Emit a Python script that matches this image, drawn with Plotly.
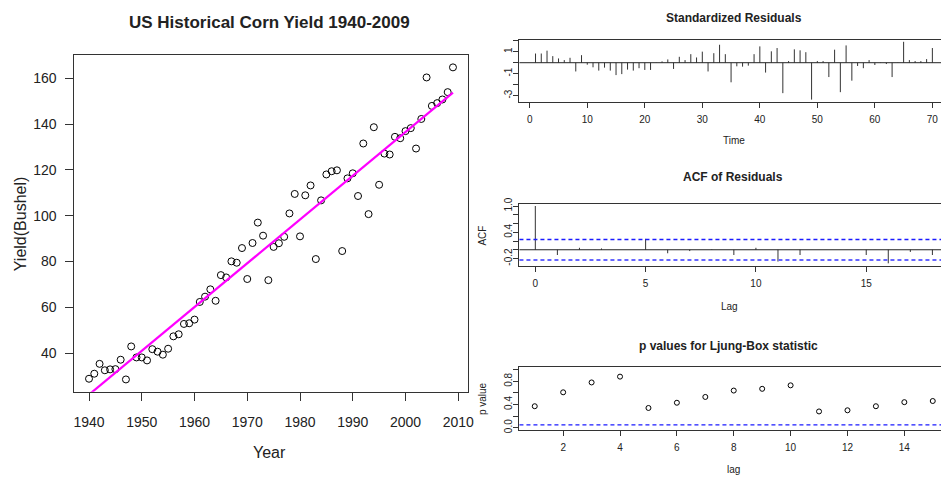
import numpy as np
import plotly.graph_objects as go

# ---------------- data ----------------
years = list(range(1940, 2010))
yield_bu = [28.9, 31.1, 35.4, 32.6, 33.0, 33.1, 37.2, 28.6, 43.0, 38.2,
            38.2, 36.9, 41.8, 40.7, 39.4, 42.0, 47.4, 48.3, 52.8, 53.1,
            54.7, 62.4, 64.7, 67.9, 62.9, 74.1, 73.1, 80.1, 79.5, 85.9,
            72.4, 88.1, 97.0, 91.3, 71.9, 86.4, 88.0, 90.8, 101.0, 109.5,
            91.0, 108.9, 113.2, 81.1, 106.7, 118.0, 119.4, 119.8, 84.6, 116.3,
            118.5, 108.6, 131.5, 100.7, 138.6, 113.5, 127.1, 126.7, 134.4, 133.8,
            136.9, 138.2, 129.3, 142.2, 160.3, 147.9, 149.1, 150.7, 153.9, 164.7]

time_idx = list(range(1, 71))
std_resid = [0.84, 0.84, 1.10, 0.60, 0.39, 0.24, 0.45, -0.80, 0.69, -0.18,
             -0.42, -0.72, -0.45, -0.72, -1.13, -1.04, -0.63, -0.72, -0.50, -0.66,
             -0.66, -0.02, 0.12, 0.30, -0.57, 0.54, 0.24, 0.78, 0.48, 1.01,
             -0.80, 0.87, 1.64, 0.78, -1.79, -0.33, -0.36, -0.27, 0.78, 1.49,
             -0.90, 1.04, 1.34, -2.78, 0.15, 1.22, 1.13, 0.96, -3.37, 0.15,
             0.15, -1.31, 1.19, -2.69, 1.58, -1.64, -0.30, -0.50, 0.24, -0.21,
             -0.03, -0.12, -1.31, 0.02, 1.91, 0.24, 0.15, 0.15, 0.33, 1.34]

acf_lags = list(range(0, 19))
acf_vals = [1.0, -0.12, 0.045, 0.03, 0.0, 0.25, -0.08, -0.03, 0.01, -0.12,
            0.045, -0.27, -0.12, 0.0, 0.0, -0.12, -0.31, -0.05, -0.12]

lb_lags = list(range(1, 16))
lb_pvals = [0.37, 0.61, 0.78, 0.88, 0.34, 0.43, 0.53, 0.64, 0.67, 0.73,
            0.28, 0.30, 0.37, 0.44, 0.46]

n_obs = 70
ci = 1.96 / np.sqrt(n_obs)
lb_level = 0.05

left_xticks = [1940, 1950, 1960, 1970, 1980, 1990, 2000, 2010]
left_yticks = [40, 60, 80, 100, 120, 140, 160]
res_xticks = [0, 10, 20, 30, 40, 50, 60, 70]
res_yticks = [-3, -2, -1, 0, 1, 2]
res_ytext = ["-3", "", "-1", "", "1", ""]
acf_xticks = [0, 5, 10, 15]
acf_yticks = [-0.2, 0.0, 0.2, 0.4, 0.6, 0.8, 1.0]
acf_ytext = ["-0.2", "", "", "0.4", "", "", "1.0"]
lb_xticks = [2, 4, 6, 8, 10, 12, 14]
lb_yticks = [0.0, 0.2, 0.4, 0.6, 0.8, 1.0]
lb_ytext = ["0.0", "", "0.4", "", "0.8", ""]

# ---------------- figure ----------------
W, H = 947, 481
FONT = "Liberation Sans, Arial, sans-serif"
INK = "#222222"

def px_x(p):
    return p / W

def px_y(p):
    return 1 - p / H

fig = go.Figure()

# left: scatter + fitted line
fig.add_trace(go.Scatter(
    x=years, y=yield_bu, mode="markers",
    marker=dict(symbol="circle-open", size=7, color="black", line=dict(width=1)),
    xaxis="x", yaxis="y", showlegend=False, hoverinfo="skip"))
coef = np.polyfit(years, yield_bu, 1)
fit_x = [years[0], years[-1]]
fig.add_trace(go.Scatter(
    x=fit_x, y=list(np.polyval(coef, fit_x)), mode="lines",
    line=dict(color="#FF00FF", width=2.2),
    xaxis="x", yaxis="y", showlegend=False, hoverinfo="skip"))

# standardized residuals (vertical bars)
rx, ry = [], []
for t, r in zip(time_idx, std_resid):
    rx += [t, t, None]
    ry += [0, r, None]
fig.add_trace(go.Scatter(x=rx, y=ry, mode="lines", line=dict(color="#333333", width=1),
                         xaxis="x2", yaxis="y2", showlegend=False, hoverinfo="skip"))

# ACF bars
ax, ay = [], []
for l, v in zip(acf_lags, acf_vals):
    ax += [l, l, None]
    ay += [0, v, None]
fig.add_trace(go.Scatter(x=ax, y=ay, mode="lines", line=dict(color="#333333", width=1),
                         xaxis="x3", yaxis="y3", showlegend=False, hoverinfo="skip"))

# Ljung-Box p-values
fig.add_trace(go.Scatter(
    x=lb_lags, y=lb_pvals, mode="markers",
    marker=dict(symbol="circle-open", size=5, color="black", line=dict(width=1)),
    xaxis="x4", yaxis="y4", showlegend=False, hoverinfo="skip"))

def axis_common(size, ticklen, standoff):
    return dict(showline=True, linecolor="#333333", linewidth=1,
                ticks="outside", ticklen=ticklen, tickcolor="#333333", tickwidth=1,
                showgrid=False, zeroline=False,
                tickfont=dict(family=FONT, size=size, color=INK),
                ticklabelstandoff=standoff)

# left panel axes
fig.update_layout(
    xaxis=dict(domain=[px_x(74), px_x(470)], range=[1937.24, 2011.76],
               tickvals=left_xticks, anchor="y", mirror=True,
               **axis_common(14, 8, 9)),
    yaxis=dict(domain=[px_y(393), px_y(49)], range=[23.2, 170.1],
               tickvals=left_yticks, anchor="x", mirror=True,
               **axis_common(14, 8, 6)),
)

RL = 522.3
# residual panel
fig.update_layout(
    xaxis2=dict(domain=[px_x(RL), 1.0], range=[-1.795, 71.5],
                tickvals=res_xticks, anchor="y2", mirror=True,
                **axis_common(10, 5, 3)),
    yaxis2=dict(domain=[px_y(96.7), px_y(33.3)], range=[-3.56, 2.11],
                tickvals=res_yticks, ticktext=res_ytext, tickangle=-90, anchor="x2",
                **axis_common(10, 5, -3)),
    xaxis3=dict(domain=[px_x(RL), 1.0], range=[-0.72, 18.39],
                tickvals=acf_xticks, anchor="y3", mirror=True,
                **axis_common(10, 5, 3)),
    yaxis3=dict(domain=[px_y(264), px_y(201)], range=[-0.36, 1.05],
                tickvals=acf_yticks, ticktext=acf_ytext, tickangle=-90, anchor="x3",
                **axis_common(10, 5, -3)),
    xaxis4=dict(domain=[px_x(RL), 1.0], range=[0.462, 15.29],
                tickvals=lb_xticks, anchor="y4", mirror=True,
                **axis_common(10, 5, 3)),
    yaxis4=dict(domain=[px_y(432), px_y(368)], range=[-0.04, 1.04],
                tickvals=lb_yticks, ticktext=lb_ytext, tickangle=-90, anchor="x4",
                **axis_common(10, 5, -3)),
)

# reference lines
shapes = [
    dict(type="line", xref="x2 domain", yref="y2", x0=0, x1=1, y0=0, y1=0,
         line=dict(color="#222222", width=1)),
    dict(type="line", xref="x3 domain", yref="y3", x0=0, x1=1, y0=0, y1=0,
         line=dict(color="#222222", width=1)),
    dict(type="line", xref="x3 domain", yref="y3", x0=0, x1=1, y0=ci, y1=ci,
         line=dict(color="#1a1aff", width=1.3, dash="4px,3px")),
    dict(type="line", xref="x3 domain", yref="y3", x0=0, x1=1, y0=-ci, y1=-ci,
         line=dict(color="#6666ff", width=1.8, dash="4px,3px")),
    dict(type="line", xref="x4 domain", yref="y4", x0=0, x1=1, y0=lb_level, y1=lb_level,
         line=dict(color="#1a1aff", width=1.3, dash="4px,3px")),
]

def ann(text, x, y, size, bold=False, angle=0):
    return dict(text=("<b>%s</b>" % text) if bold else text,
                x=px_x(x), y=px_y(y), xref="paper", yref="paper",
                xanchor="center", yanchor="middle", showarrow=False,
                textangle=angle, font=dict(family=FONT, size=size, color=INK))

annotations = [
    ann("US Historical Corn Yield 1940-2009", 271, 16, 17, bold=True),
    ann("Year", 271, 455, 16),
    ann("Yield(Bushel)", 20, 221, 16, angle=-90),
    ann("Standardized Residuals", 738, 11, 12, bold=True),
    ann("Time", 738, 136, 10),
    ann("ACF of Residuals", 737, 174, 12, bold=True),
    ann("Lag", 734, 306, 10),
    ann("ACF", 485, 233, 10, angle=-90),
    ann("p values for Ljung-Box statistic", 733, 346, 12, bold=True),
    ann("lag", 738, 472, 10),
    ann("p value", 485, 400, 10, angle=-90),
]

fig.update_layout(
    width=W, height=H, margin=dict(l=0, r=0, t=0, b=0),
    paper_bgcolor="white", plot_bgcolor="white",
    shapes=shapes, annotations=annotations,
    font=dict(family=FONT, color=INK),
)

fig.write_html("out.html")
